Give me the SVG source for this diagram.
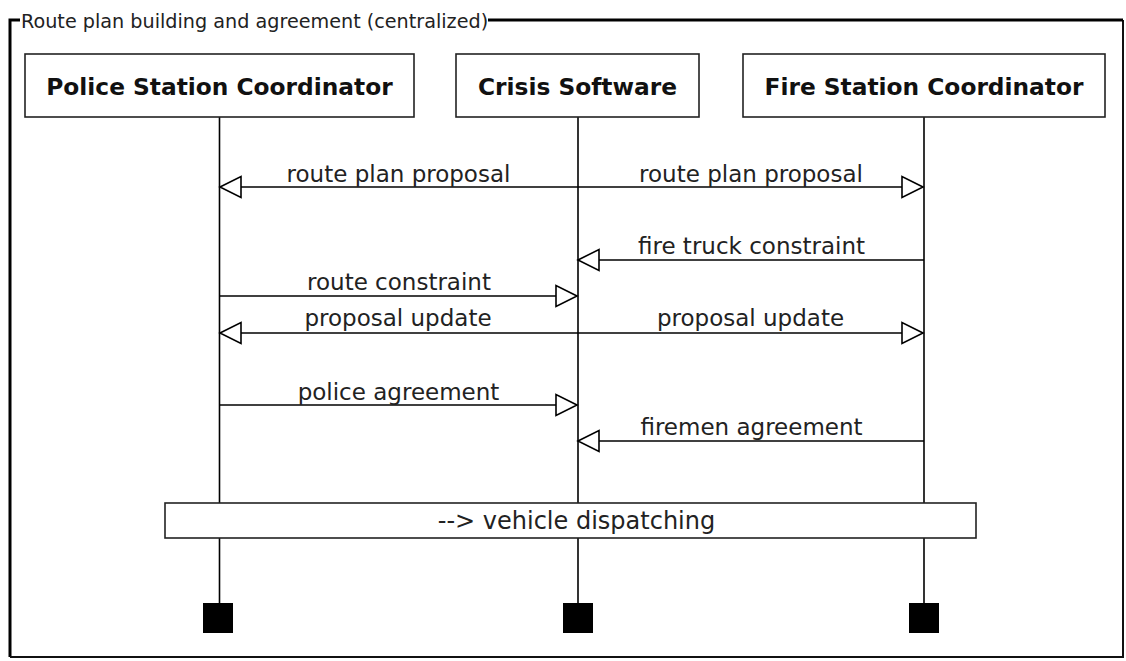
<svg xmlns="http://www.w3.org/2000/svg" width="1126" height="661" viewBox="0 0 1126 661">
  <defs>
    <style>
      .frame { fill: none; stroke: #000; stroke-width: 3; }
      .frame-thin { fill: none; stroke: #111; stroke-width: 2; }
      .box { fill: #fff; stroke: #222; stroke-width: 1.6; }
      .life { stroke: #000; stroke-width: 1.6; fill: none; }
      .msg { stroke: #000; stroke-width: 1.6; fill: none; }
      .head { fill: #fff; stroke: #000; stroke-width: 1.6; }
      .end { fill: #000; }
      .title { font-family: "DejaVu Sans", Verdana, sans-serif; font-size: 19.2px; fill: #222; }
      .actor { font-family: "DejaVu Sans", Verdana, sans-serif; font-size: 23.3px; font-weight: bold; fill: #111; text-anchor: middle; }
      .label { font-family: "DejaVu Sans", Verdana, sans-serif; font-size: 23px; fill: #222; text-anchor: middle; }
      .ref { font-family: "DejaVu Sans", Verdana, sans-serif; font-size: 24px; fill: #222; text-anchor: middle; }
    </style>
  </defs>

  <!-- combined fragment frame -->
  <g id="frame">
    <polyline class="frame" points="20,20 10,20 10,657"/>
    <polyline class="frame-thin" points="10,657 1123,657 1123,20"/>
    <line class="frame" x1="488" y1="20" x2="1123" y2="20"/>
    <text class="title" x="21" y="28">Route plan building and agreement (centralized)</text>
  </g>

  <!-- lifelines -->
  <g id="lifelines">
    <line class="life" x1="219.5" y1="117" x2="219.5" y2="503"/>
    <line class="life" x1="219.5" y1="538" x2="219.5" y2="603"/>
    <line class="life" x1="578" y1="117" x2="578" y2="503"/>
    <line class="life" x1="578" y1="538" x2="578" y2="603"/>
    <line class="life" x1="924" y1="117" x2="924" y2="503"/>
    <line class="life" x1="924" y1="538" x2="924" y2="603"/>
  </g>

  <g id="police">
    <rect class="box" x="25" y="54" width="389" height="63"/>
    <text class="actor" x="219.5" y="95">Police Station Coordinator</text>
    <rect class="end" x="203" y="603" width="30" height="30"/>
  </g>

  <g id="crisis">
    <rect class="box" x="456" y="54" width="243" height="63"/>
    <text class="actor" x="577.5" y="95">Crisis Software</text>
    <rect class="end" x="563" y="603" width="30" height="30"/>
  </g>

  <g id="fire">
    <rect class="box" x="743" y="54" width="362" height="63"/>
    <text class="actor" x="924" y="95">Fire Station Coordinator</text>
    <rect class="end" x="909" y="603" width="30" height="30"/>
  </g>

  <!-- messages -->
  <g id="connectors">
    <!-- route plan proposal (broadcast) -->
    <line class="msg" x1="220" y1="187" x2="923" y2="187"/>
    <polygon class="head" points="220,187 241,176.5 241,197.5"/>
    <polygon class="head" points="923,187 902,176.5 902,197.5"/>
    <text class="label" x="398.5" y="182">route plan proposal</text>
    <text class="label" x="751" y="182">route plan proposal</text>

    <!-- fire truck constraint -->
    <line class="msg" x1="578" y1="260" x2="924" y2="260"/>
    <polygon class="head" points="578,260 599,249.5 599,270.5"/>
    <text class="label" x="751.5" y="254">fire truck constraint</text>

    <!-- route constraint -->
    <line class="msg" x1="219.5" y1="296" x2="577" y2="296"/>
    <polygon class="head" points="577,296 556,285.5 556,306.5"/>
    <text class="label" x="399" y="290">route constraint</text>

    <!-- proposal update (broadcast) -->
    <line class="msg" x1="220" y1="333" x2="923" y2="333"/>
    <polygon class="head" points="220,333 241,322.5 241,343.5"/>
    <polygon class="head" points="923,333 902,322.5 902,343.5"/>
    <text class="label" x="398" y="326">proposal update</text>
    <text class="label" x="750.5" y="326">proposal update</text>

    <!-- police agreement -->
    <line class="msg" x1="219.5" y1="405" x2="577" y2="405"/>
    <polygon class="head" points="577,405 556,394.5 556,415.5"/>
    <text class="label" x="398.5" y="400">police agreement</text>

    <!-- firemen agreement -->
    <line class="msg" x1="578" y1="441" x2="924" y2="441"/>
    <polygon class="head" points="578,441 599,430.5 599,451.5"/>
    <text class="label" x="751.5" y="435">firemen agreement</text>
  </g>

  <!-- continuation reference -->
  <g id="dispatching">
    <rect class="box" x="165" y="503" width="811" height="35"/>
    <text class="ref" x="576.5" y="529">--&gt; vehicle dispatching</text>
  </g>
</svg>
